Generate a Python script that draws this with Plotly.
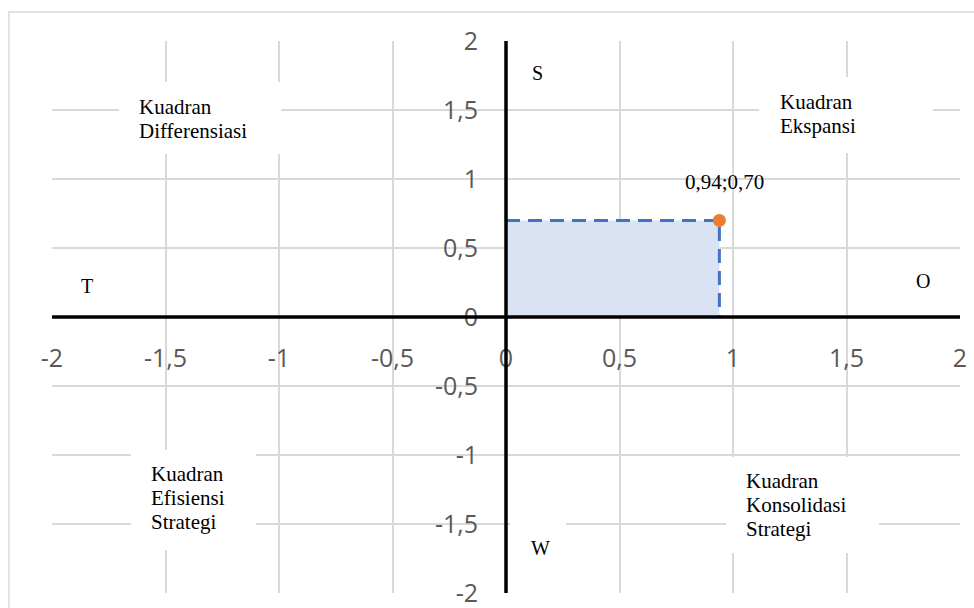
import plotly.graph_objects as go

# Axis ticks (values and their printed labels, comma as decimal separator)
tick_vals = [-2, -1.5, -1, -0.5, 0, 0.5, 1, 1.5, 2]
tick_text = ["-2", "-1,5", "-1", "-0,5", "0", "0,5", "1", "1,5", "2"]

# Position of the strategy point (x = IFE score, y = EFE score)
point_x = [0.94]
point_y = [0.70]

# Quadrant captions: (lines, left x, centre y, white box x0, x1, y0, y1)
quadrants = [
    (["Kuadran", "Differensiasi"], -1.625, 1.435, (-1.705, -0.99, 1.181, 1.703)),
    (["Kuadran", "Ekspansi"], 1.198, 1.471, (1.115, 1.881, 1.188, 1.739)),
    (["Kuadran", "Efisiensi", "Strategi"], -1.572, -1.312, (-1.652, -1.101, -1.688, -0.964)),
    (["Kuadran", "Konsolidasi", "Strategi"], 1.049, -1.362, (0.969, 1.643, -1.710, -1.014)),
]

# Single-letter SWOT markers
letters = ["S", "W", "T", "O"]
letter_x = [0.137, 0.154, -1.846, 1.837]
letter_y = [1.768, -1.674, 0.225, 0.261]

serif = "Liberation Serif, Times New Roman, serif"
grid = "#d9d9d9"

fig = go.Figure()

# Shaded area under the point
fig.add_trace(go.Scatter(
    x=[0, point_x[0], point_x[0], 0], y=[0, 0, point_y[0], point_y[0]],
    mode="lines", fill="toself", fillcolor="#dae3f3",
    line=dict(width=0), hoverinfo="skip",
))

# Dashed guide lines from the axes to the point
fig.add_trace(go.Scatter(
    x=[0, point_x[0], point_x[0]], y=[point_y[0], point_y[0], 0],
    mode="lines", line=dict(color="#4472c4", width=3, dash="14px,8px"),
    hoverinfo="skip",
))

# The point itself
fig.add_trace(go.Scatter(
    x=point_x, y=point_y, mode="markers",
    marker=dict(color="#ed7d31", size=13),
))


def fmt(v):
    return f"{v:.2f}".replace(".", ",")


point_label = f"{fmt(point_x[0])};{fmt(point_y[0])}"

shapes = []
annotations = []

# White boxes behind the quadrant captions
for lines, tx, ty, (bx0, bx1, by0, by1) in quadrants:
    shapes.append(dict(type="rect", xref="x", yref="y", x0=bx0, x1=bx1, y0=by0, y1=by1,
                       fillcolor="white", line=dict(width=0), layer="above"))
    n = len(lines)
    for i, line in enumerate(lines):
        annotations.append(dict(
            x=tx, y=ty, xref="x", yref="y", text=line, showarrow=False,
            xanchor="left", yanchor="middle", yshift=((n - 1) / 2 - i) * 24,
            font=dict(family=serif, size=21, color="black"),
        ))

# Box behind "W" (it sits on a gridline)
shapes.append(dict(type="rect", xref="x", yref="y", x0=0.018, x1=0.264, y0=-1.87, y1=-1.493,
                   fillcolor="white", line=dict(width=0), layer="above"))

for t, lx, ly in zip(letters, letter_x, letter_y):
    annotations.append(dict(
        x=lx, y=ly, xref="x", yref="y", text=t, showarrow=False,
        font=dict(family=serif, size=20, color="black"),
    ))

# Value label above the point
annotations.append(dict(
    x=point_x[0], y=point_y[0], xref="x", yref="y", text=point_label, showarrow=False,
    yanchor="middle", yshift=38, xshift=5,
    font=dict(family=serif, size=21, color="black"),
))

# Black axes crossing at the origin
shapes.append(dict(type="line", xref="paper", yref="y", x0=0, x1=1, y0=0, y1=0,
                   line=dict(color="black", width=3.5), layer="above"))
shapes.append(dict(type="line", xref="x", yref="paper", x0=0, x1=0, y0=0, y1=1,
                   line=dict(color="black", width=3.5), layer="above"))

# Light outer frame of the chart area
shapes.append(dict(type="rect", xref="paper", yref="paper",
                   x0=-0.0474, x1=1.1, y0=-0.1, y1=1.0525,
                   line=dict(color=grid, width=1.5), fillcolor="rgba(0,0,0,0)", layer="below"))

tick_font = dict(family="Open Sans, Liberation Sans, sans-serif", size=25, color="#595959")

fig.update_layout(
    width=974, height=608,
    margin=dict(l=52, r=14, t=41, b=15, autoexpand=False),
    paper_bgcolor="white", plot_bgcolor="white",
    showlegend=False,
    shapes=shapes, annotations=annotations,
    xaxis=dict(
        range=[-2, 2], tickvals=tick_vals, ticktext=tick_text,
        showgrid=True, gridcolor=grid, gridwidth=1.5,
        zeroline=False, showline=False, ticks="",
        anchor="free", position=0.5, ticklabelstandoff=24,
        ticklabeloverflow="allow", automargin=False,
        tickfont=tick_font, fixedrange=True,
    ),
    yaxis=dict(
        range=[-2, 2], tickvals=tick_vals, ticktext=tick_text,
        showgrid=True, gridcolor=grid, gridwidth=1.5,
        zeroline=False, showline=False, ticks="",
        anchor="free", position=0.5, ticklabelstandoff=28,
        ticklabeloverflow="allow", automargin=False,
        tickfont=tick_font, fixedrange=True,
    ),
)

fig.write_html("out.html")
